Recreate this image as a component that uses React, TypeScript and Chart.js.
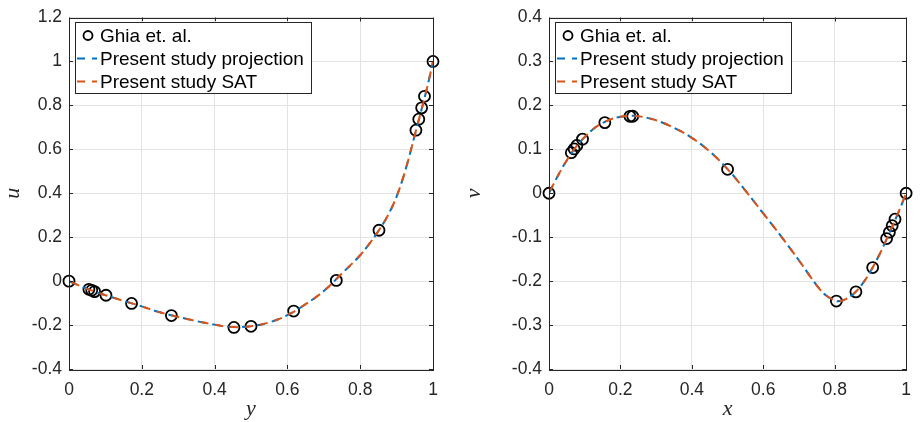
import React, { useEffect, useRef } from 'react';
import { Chart, registerables } from 'chart.js';
Chart.register(...registerables);

// ---- Data ----
const ghiaUy = [1.0, 0.9766, 0.9688, 0.9609, 0.9531, 0.8516, 0.7344, 0.6172, 0.5, 0.4531, 0.2813, 0.1719, 0.1016, 0.0703, 0.0625, 0.0547, 0.0];
const ghiaU = [1.0, 0.84123, 0.78871, 0.73722, 0.68717, 0.23151, 0.00332, -0.13641, -0.20581, -0.2109, -0.15662, -0.1015, -0.06434, -0.04775, -0.04192, -0.03717, 0.0];

const ghiaVx = [1.0, 0.9688, 0.9609, 0.9531, 0.9453, 0.9063, 0.8594, 0.8047, 0.5, 0.2344, 0.2266, 0.1563, 0.0938, 0.0781, 0.0703, 0.0625, 0.0];
const ghiaV = [0.0, -0.05906, -0.07391, -0.08864, -0.10313, -0.16914, -0.22445, -0.24533, 0.05454, 0.17527, 0.17507, 0.16077, 0.12317, 0.1089, 0.10091, 0.09233, 0.0];

const curveUy = [0, 0.025, 0.05, 0.075, 0.1, 0.15, 0.2, 0.25, 0.3, 0.35, 0.4, 0.45, 0.5, 0.55, 0.6, 0.65, 0.7, 0.75, 0.8, 0.825, 0.85, 0.875, 0.9, 0.925, 0.95, 0.96, 0.97, 0.98, 0.99, 1.0];
const curveU = [0, -0.018, -0.035, -0.05, -0.064, -0.09, -0.115, -0.142, -0.163, -0.182, -0.198, -0.209, -0.205, -0.188, -0.155, -0.105, -0.045, 0.035, 0.118, 0.17, 0.228, 0.296, 0.385, 0.51, 0.665, 0.728, 0.79, 0.855, 0.925, 1.0];

const curveVx = [0, 0.025, 0.05, 0.075, 0.1, 0.125, 0.15, 0.175, 0.2, 0.225, 0.25, 0.3, 0.35, 0.4, 0.45, 0.5, 0.55, 0.6, 0.65, 0.7, 0.75, 0.775, 0.8, 0.81, 0.825, 0.85, 0.875, 0.9, 0.925, 0.95, 0.975, 1.0];
const curveV = [0, 0.04, 0.075, 0.105, 0.128, 0.147, 0.16, 0.169, 0.174, 0.176, 0.1755, 0.166, 0.149, 0.126, 0.095, 0.055, 0.006, -0.046, -0.098, -0.153, -0.21, -0.232, -0.244, -0.246, -0.243, -0.231, -0.209, -0.178, -0.14, -0.096, -0.05, 0];

const xTicks = [0, 0.2, 0.4, 0.6, 0.8, 1];
const uTicks = [-0.4, -0.2, 0, 0.2, 0.4, 0.6, 0.8, 1, 1.2];
const vTicks = [-0.4, -0.3, -0.2, -0.1, 0, 0.1, 0.2, 0.3, 0.4];
const legendLabels = ['Ghia et. al.', 'Present study projection', 'Present study SAT'];

const BLUE = '#0072BD';
const ORANGE = '#D95319';
const AXIS = '#262626';
const TICK_FONT = { family: '"Liberation Sans", Arial, sans-serif', size: 17.5 };

const boxPlugin = {
  id: 'boxTicks',
  afterDatasetsDraw(chart: any) {
    const { ctx, chartArea } = chart;
    const { left, right, top, bottom } = chartArea;
    const x = chart.scales.x;
    const y = chart.scales.y;
    ctx.save();
    ctx.strokeStyle = AXIS;
    ctx.lineWidth = 1;
    ctx.beginPath();
    x.ticks.forEach((t: any) => {
      const px = Math.round(x.getPixelForValue(t.value)) + 0.5;
      ctx.moveTo(px, bottom); ctx.lineTo(px, bottom - 4);
      ctx.moveTo(px, top); ctx.lineTo(px, top + 4);
    });
    y.ticks.forEach((t: any) => {
      const py = Math.round(y.getPixelForValue(t.value)) + 0.5;
      ctx.moveTo(left, py); ctx.lineTo(left + 4, py);
      ctx.moveTo(right, py); ctx.lineTo(right - 4, py);
    });
    ctx.stroke();
    ctx.strokeRect(Math.round(left) + 0.5, Math.round(top) + 0.5, Math.round(right - left), Math.round(bottom - top));
    ctx.restore();
  },
};

const legendPlugin = {
  id: 'insideLegend',
  afterDraw(chart: any) {
    const { ctx, chartArea } = chart;
    const bx = chartArea.left + 6;
    const by = chartArea.top + 4;
    ctx.save();
    ctx.font = '19px "Liberation Sans", Arial, sans-serif';
    const textX = bx + 25;
    const maxW = Math.max(...legendLabels.map((l) => ctx.measureText(l).width));
    const bw = textX + maxW + 7 - bx;
    const bh = 71;
    ctx.fillStyle = '#ffffff';
    ctx.fillRect(bx, by, bw, bh);
    ctx.strokeStyle = AXIS;
    ctx.lineWidth = 1;
    ctx.strokeRect(Math.round(bx) + 0.5, Math.round(by) + 0.5, Math.round(bw), bh);
    const rows = [by + 14, by + 37, by + 60];
    ctx.beginPath();
    ctx.arc(bx + 13, rows[0], 4.5, 0, Math.PI * 2);
    ctx.strokeStyle = '#000';
    ctx.lineWidth = 1.8;
    ctx.stroke();
    [BLUE, ORANGE].forEach((c, i) => {
      ctx.beginPath();
      ctx.setLineDash([8, 7]);
      ctx.strokeStyle = c;
      ctx.lineWidth = 2;
      ctx.moveTo(bx + 2, rows[i + 1]);
      ctx.lineTo(bx + 22, rows[i + 1]);
      ctx.stroke();
    });
    ctx.setLineDash([]);
    ctx.fillStyle = '#000';
    ctx.textBaseline = 'middle';
    legendLabels.forEach((l, i) => ctx.fillText(l, textX, rows[i] + 1));
    ctx.restore();
  },
};

type PanelProps = {
  gx: number[]; gy: number[]; cx: number[]; cy: number[];
  yTicks: number[]; xTitle: string; yTitle: string; axisLeft: number; padRight: number; left: number;
};

function Panel(p: PanelProps) {
  const ref = useRef<HTMLCanvasElement>(null);
  useEffect(() => {
    const canvas = ref.current!;
    const ghia = p.gx.map((v, i) => ({ x: v, y: p.gy[i] }));
    const curve = p.cx.map((v, i) => ({ x: v, y: p.cy[i] }));
    const chart = new Chart(canvas, {
      type: 'scatter',
      data: {
        datasets: [
          { label: legendLabels[0], data: ghia, order: 3, pointStyle: 'circle', pointRadius: 5.5, borderWidth: 1.8, borderColor: '#000', backgroundColor: 'rgba(0,0,0,0)', showLine: false, clip: false },
          { label: legendLabels[1], data: curve, order: 2, showLine: true, pointRadius: 0, borderColor: BLUE, borderWidth: 2, borderDash: [8, 7], tension: 0.4 },
          { label: legendLabels[2], data: curve, order: 1, showLine: true, pointRadius: 0, borderColor: ORANGE, borderWidth: 2, borderDash: [8, 7], borderDashOffset: -3, tension: 0.4 },
        ],
      } as any,
      options: {
        animation: false,
        responsive: false,
        events: [],
        layout: { padding: { left: 0, right: p.padRight, top: 14, bottom: 0 } },
        plugins: { legend: { display: false }, tooltip: { enabled: false } },
        scales: {
          x: {
            type: 'linear', min: 0, max: 1,
            afterBuildTicks: (s: any) => { s.ticks = xTicks.map((v) => ({ value: v })); },
            afterFit: (s: any) => { s.height = 53; },
            ticks: { color: AXIS, font: TICK_FONT, padding: 11, maxRotation: 0, callback: (v: any) => String(Number(Number(v).toFixed(2))) },
            grid: { color: '#e3e3e3', drawTicks: false },
            border: { display: false },
            title: { display: true, text: p.xTitle, color: AXIS, font: { family: '"Liberation Serif", "DejaVu Serif", serif', size: 22, style: 'italic' }, padding: { top: 0, bottom: 0 } },
          },
          y: {
            type: 'linear', min: p.yTicks[0], max: p.yTicks[p.yTicks.length - 1],
            afterBuildTicks: (s: any) => { s.ticks = p.yTicks.map((v) => ({ value: v })); },
            afterFit: (s: any) => { s.width = p.axisLeft; },
            ticks: { color: AXIS, font: TICK_FONT, padding: 7, callback: (v: any) => String(Number(Number(v).toFixed(2))) },
            grid: { color: '#e3e3e3', drawTicks: false },
            border: { display: false },
            title: { display: true, text: p.yTitle, color: AXIS, font: { family: '"Liberation Serif", "DejaVu Serif", serif', size: 22, style: 'italic' }, padding: { top: 0, bottom: 0 } },
          },
        },
      } as any,
      plugins: [boxPlugin, legendPlugin],
    });
    return () => chart.destroy();
  }, []);
  return (
    <canvas ref={ref} width={461} height={422}
      style={{ position: 'absolute', left: p.left, top: 0, width: 461, height: 422 }} />
  );
}

export default function App() {
  return (
    <div style={{ position: 'fixed', left: 0, top: 0, width: 922, height: 422, background: '#fff' }}>
      <Panel gx={ghiaUy} gy={ghiaU} cx={curveUy} cy={curveU} yTicks={uTicks} xTitle="y" yTitle="u" axisLeft={69} padRight={28} left={0} />
      <Panel gx={ghiaVx} gy={ghiaV} cx={curveVx} cy={curveV} yTicks={vTicks} xTitle="x" yTitle="v" axisLeft={88} padRight={9} left={461} />
    </div>
  );
}
